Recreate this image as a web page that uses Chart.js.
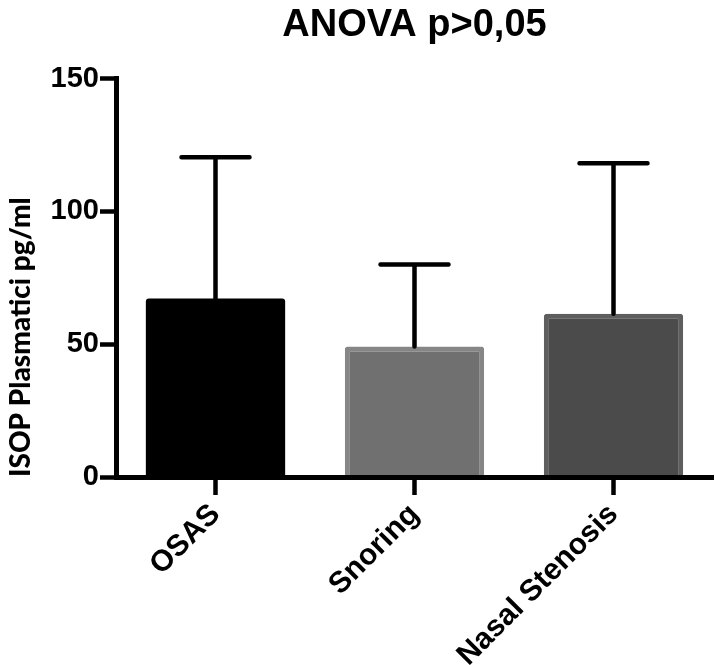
<!DOCTYPE html>
<html>
<head>
<meta charset="utf-8">
<script src="https://cdn.jsdelivr.net/npm/chart.js@4"></script>
<style>
  body { margin: 0; background: #fff; }
  #wrap { width: 715px; height: 665px; }
</style>
</head>
<body>
<div id="wrap"><canvas id="myChart"></canvas></div>
<script>
// data
const groups = ["OSAS", "Snoring", "Nasal Stenosis"];
const means = [67.2, 49.1, 61.5];
const errTop = [120.4, 80.0, 118.1];   // mean + SD
const yTicks = [0, 50, 100, 150];

const fills = ["#000000", "#707070", "#4b4b4b"];
const edges = ["#000000", "#868686", "#5e5e5e"];
const edgeWidths = [0, 5, 5];

// error bars (upper whisker + cap)
const errorBars = {
    id: "errorBars",
    afterDatasetsDraw(chart) {
        const ctx = chart.ctx;
        const y = chart.scales.y;
        const meta = chart.getDatasetMeta(0);
        ctx.save();
        ctx.strokeStyle = "#000";
        ctx.lineWidth = 4.5;
        ctx.lineCap = "round";
        meta.data.forEach(function (bar, i) {
            const yTop = y.getPixelForValue(errTop[i]);
            const yBar = y.getPixelForValue(means[i]);
            ctx.beginPath();
            ctx.moveTo(bar.x, yBar);
            ctx.lineTo(bar.x, yTop);
            ctx.moveTo(bar.x - 34, yTop);
            ctx.lineTo(bar.x + 34, yTop);
            ctx.stroke();
        });
        ctx.restore();
    },
};

const ctx = document.getElementById("myChart");
new Chart(ctx, {
    type: "bar",
    data: {
        labels: groups,
        datasets: [
            {
                data: means,
                backgroundColor: fills,
                borderColor: edges,
                borderWidth: edgeWidths,
                borderSkipped: "start",
                borderRadius: 3,
                categoryPercentage: 1,
                barPercentage: 0.7,
            },
        ],
    },
    options: {
        responsive: true,
        maintainAspectRatio: false,
        animation: false,
        layout: { padding: { left: 0, right: 2, top: 0, bottom: 0 } },
        plugins: {
            legend: { display: false },
            tooltip: { enabled: false },
            title: {
                display: true,
                text: "ANOVA p>0,05",
                fullSize: false,
                color: "#000",
                font: { family: "Liberation Sans, Arial", size: 38, weight: "bold" },
                padding: { top: 3, bottom: 30 },
            },
        },
        scales: {
            x: {
                offset: true,
                afterFit: function (scale) {
                    scale.height = 188;
                },
                grid: {
                    offset: false,
                    drawOnChartArea: false,
                    drawTicks: true,
                    tickLength: 18,
                    tickWidth: 4.5,
                    color: "#000",
                },
                border: { display: true, color: "#000", width: 5, z: 1 },
                ticks: {
                    color: "#000",
                    minRotation: 45,
                    maxRotation: 45,
                    padding: 2,
                    font: { family: "Liberation Sans, Arial", size: 30, weight: "bold" },
                },
            },
            y: {
                min: 0,
                max: 150,
                afterFit: function (scale) {
                    scale.width = 116;
                },
                afterBuildTicks: function (scale) {
                    scale.ticks = yTicks.map(function (v) { return { value: v }; });
                },
                grid: {
                    drawOnChartArea: false,
                    drawTicks: true,
                    tickLength: 16,
                    tickWidth: 4.5,
                    color: "#000",
                },
                border: { display: true, color: "#000", width: 5, z: 1 },
                ticks: {
                    color: "#000",
                    padding: 1,
                    font: { family: "Liberation Sans, Arial", size: 29, weight: "bold" },
                },
                title: {
                    display: true,
                    text: "ISOP Plasmatici pg/ml",
                    align: "start",
                    color: "#000",
                    font: { family: "Lato, Open Sans", size: 28, weight: "900" },
                    padding: { top: 4, bottom: 0 },
                },
            },
        },
    },
    plugins: [errorBars],
});
</script>
</body>
</html>
